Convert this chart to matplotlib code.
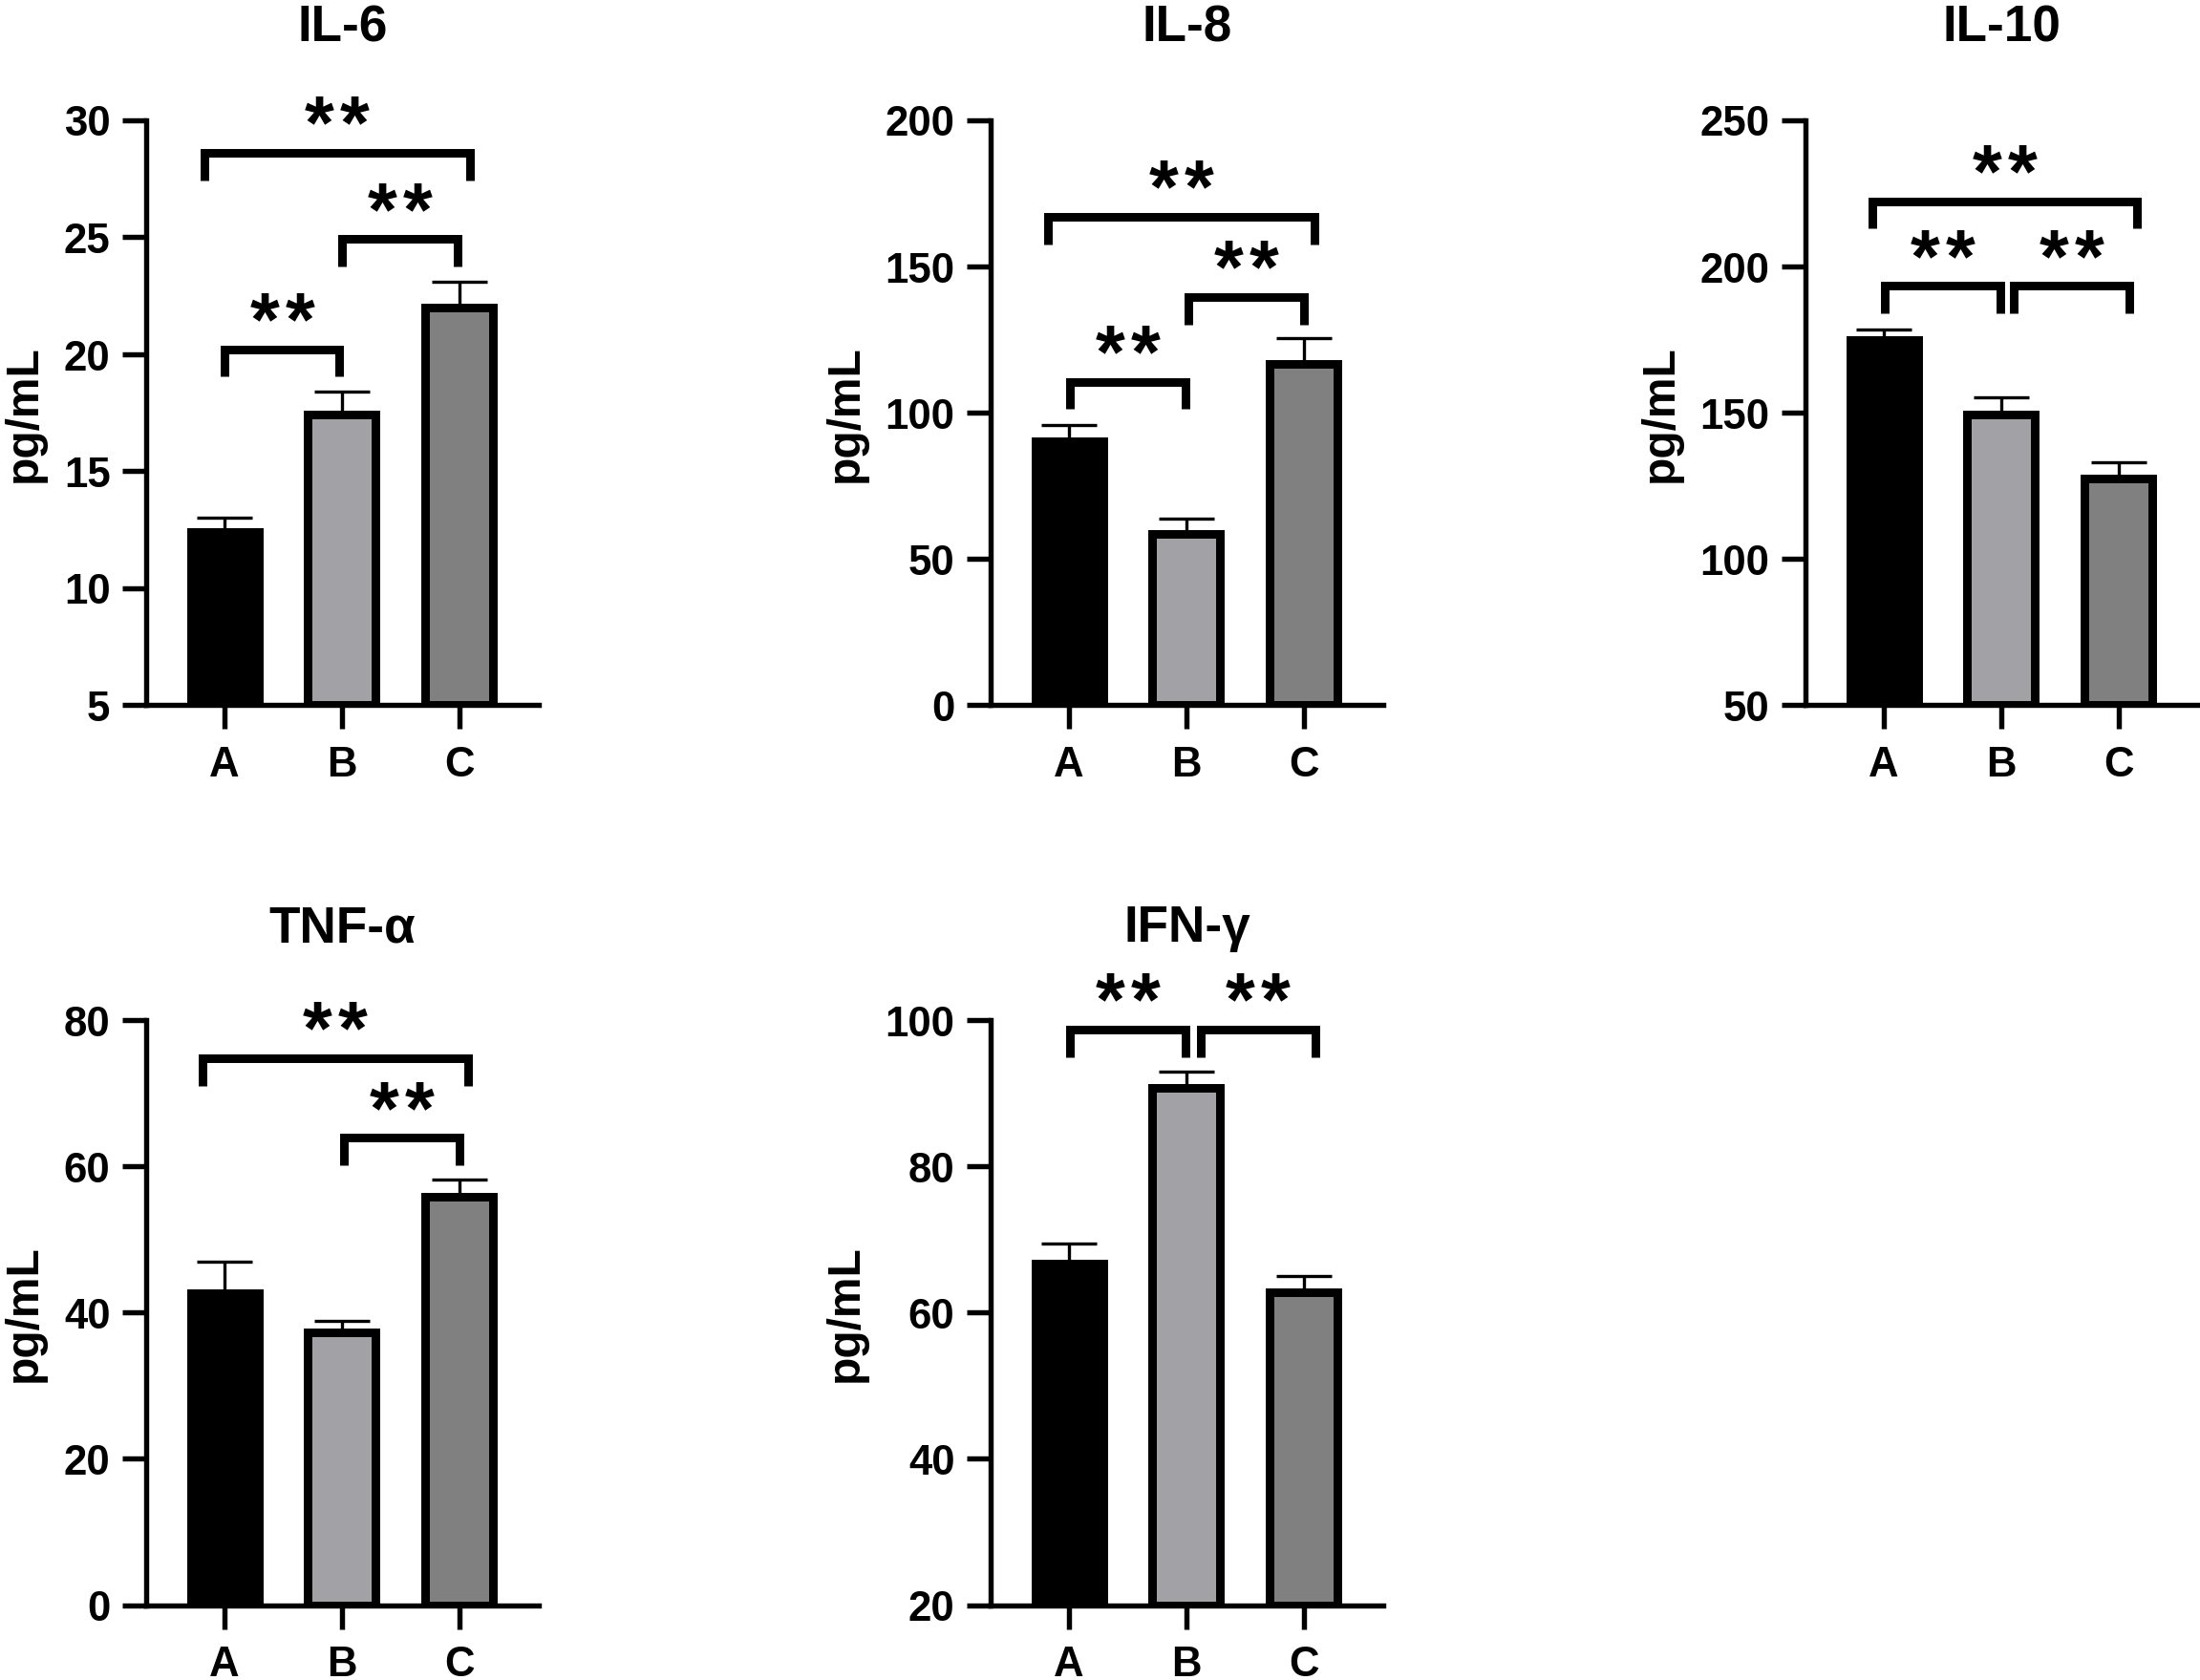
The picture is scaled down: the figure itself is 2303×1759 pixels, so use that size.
import matplotlib
matplotlib.use("Agg")
import matplotlib.pyplot as plt
import numpy as np

plt.rcParams["font.family"] = ["Liberation Sans", "DejaVu Sans"]
plt.rcParams["font.weight"] = "bold"

groups = ["A", "B", "C"]
colors = ["#000000", "#a2a2a6", "#808080"]

# mean and SEM
il6_mean = [12.4, 17.4, 22.0]
il6_sem = [0.6, 1.0, 1.1]
il8_mean = [90.2, 58.5, 116.6]
il8_sem = [5.5, 5.3, 8.7]
il10_mean = [174.7, 149.4, 127.3]
il10_sem = [3.6, 5.6, 5.8]
tnf_mean = [42.6, 37.3, 55.9]
tnf_sem = [4.4, 1.5, 2.3]
ifn_mean = [66.7, 90.7, 62.8]
ifn_sem = [2.7, 2.3, 2.2]

# significance brackets: (x start, x end, height, label)
il6_sig = [(0, 0.98, 20.2, "**"), (1.0, 1.99, 24.9, "**"), (-0.17, 2.09, 28.6, "**")]
il8_sig = [(0.01, 0.99, 110.5, "**"), (1.02, 2.0, 139.5, "**"), (-0.18, 2.09, 166.9, "**")]
il10_sig = [(0.01, 0.99, 193.3, "**"), (1.11, 2.09, 193.3, "**"), (-0.1, 2.16, 222.2, "**")]
tnf_sig = [(1.02, 2.0, 63.9, "**"), (-0.19, 2.08, 74.8, "**")]
ifn_sig = [(0.01, 0.99, 98.7, "**"), (1.12, 2.1, 98.7, "**")]

panels = [
    ("IL-6", il6_mean, il6_sem, il6_sig, (5, 30), [5, 10, 15, 20, 25, 30]),
    ("IL-8", il8_mean, il8_sem, il8_sig, (0, 200), [0, 50, 100, 150, 200]),
    ("IL-10", il10_mean, il10_sem, il10_sig, (50, 250), [50, 100, 150, 200, 250]),
    ("TNF-α", tnf_mean, tnf_sem, tnf_sig, (0, 80), [0, 20, 40, 60, 80]),
    ("IFN-γ", ifn_mean, ifn_sem, ifn_sig, (20, 100), [20, 40, 60, 80, 100]),
]

W, H = 2303, 1760
fig = plt.figure(figsize=(W / 150, H / 150), dpi=150)

lefts = [153, 1037, 1890, 153, 1037]
tops = [126.5, 126.5, 126.5, 1069, 1069]
aw, ah = 411, 612.5

for i, (title, mean, sem, sig, ylim, yticks) in enumerate(panels):
    ax = fig.add_axes([lefts[i] / W, 1 - (tops[i] + ah) / H, aw / W, ah / H])
    x = np.arange(len(groups))
    ax.errorbar(x, mean, yerr=[np.zeros(3), sem], fmt="none", ecolor="black",
                elinewidth=1.6, capsize=14, capthick=1.6, zorder=1)
    ax.bar(x, np.array(mean) - ylim[0], bottom=ylim[0], width=0.58, color=colors,
           edgecolor="black", linewidth=4.3, zorder=2)
    ax.set_xlim(-0.67, 2.68)
    ax.set_ylim(*ylim)
    ax.set_yticks(yticks)
    ax.set_xticks(x)
    ax.set_xticklabels(groups)
    for s in ["top", "right"]:
        ax.spines[s].set_visible(False)
    for s in ["left", "bottom"]:
        ax.spines[s].set_linewidth(2.6)
    ax.tick_params(axis="both", length=12, width=2.6, labelsize=21)
    ax.tick_params(axis="y", pad=6)
    ax.tick_params(axis="x", pad=8)
    ax.set_ylabel("pg/mL", fontsize=23, fontweight="bold", labelpad=9)
    ax.text(0.5, 1.135, title, transform=ax.transAxes, ha="center", va="baseline",
            fontsize=25.5, fontweight="bold")

    leg = 0.047 * (ylim[1] - ylim[0])
    for x1, x2, y, lab in sig:
        ax.plot([x1, x1, x2, x2], [y - leg, y, y, y - leg], color="black", lw=4.3,
                solid_joinstyle="miter", solid_capstyle="butt", clip_on=False)
        n = len(lab)
        for k, ch in enumerate(lab):
            dx = (k - (n - 1) / 2) * 17.8
            ax.annotate(ch, xy=((x1 + x2) / 2, y), xytext=(dx, 2.5),
                        textcoords="offset points", ha="center", va="baseline",
                        fontsize=38, fontweight="bold", annotation_clip=False)

fig.savefig("out.png", dpi=150)
